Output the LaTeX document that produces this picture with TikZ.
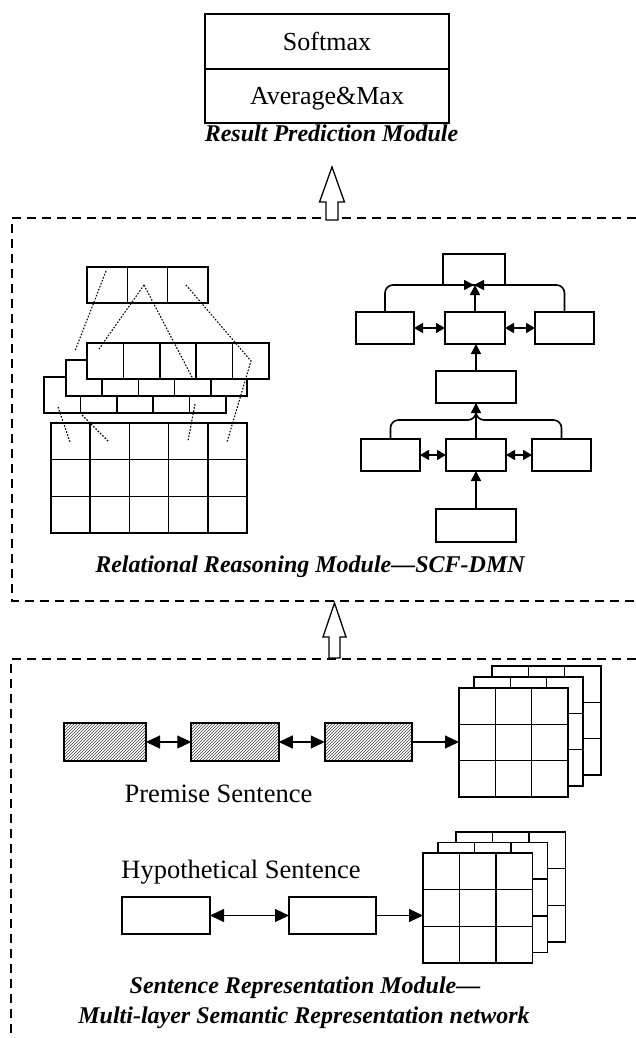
\documentclass[tikz,border=0pt]{standalone}
\usepackage{fontspec}
\setmainfont{Liberation Serif}
\usetikzlibrary{arrows.meta,patterns,calc}
\newcommand\mgrid[7]{% name, x0, y0, cell w, cell h, ncols, nrows
  \node[box, minimum width=#6*#4, minimum height=#7*#5, anchor=north west] (#1) at (#2,#3) {};
  \pgfmathtruncatemacro\mync{#6-1}\pgfmathtruncatemacro\mynr{#7-1}
  \ifnum\mync>0 \foreach \k in {1,...,\mync} {\draw[gridline] ($(#1.north west)+(\k*#4,0)$) -- ($(#1.south west)+(\k*#4,0)$);}\fi
  \ifnum\mynr>0 \foreach \k in {1,...,\mynr} {\draw[gridline] ($(#1.north west)+(0,\k*#5)$) -- ($(#1.north east)+(0,\k*#5)$);}\fi
}
\begin{document}
\begin{tikzpicture}[x=1pt,y=-1pt,
  box/.style={draw, line width=1.6pt, inner sep=0pt, outer sep=0pt, fill=white},
  gridline/.style={line width=1.6pt},
  dbox/.style={line width=1.2pt, dash pattern=on 9pt off 6pt},
  hollow/.style={draw, line width=1.3pt, fill=white, line join=miter},
  treeconn/.style={line width=1.6pt},
  uparr/.style={treeconn, -{Triangle[length=10pt,width=10pt]}},
  duparr/.style={treeconn, {Triangle[length=9pt,width=10pt]}-{Triangle[length=9pt,width=10pt]}},
  barr/.style={line width=1.1pt, -{Triangle[length=14pt,width=13pt]}},
  dbarr/.style={line width=1.1pt, {Triangle[length=14pt,width=13pt]}-{Triangle[length=14pt,width=13pt]}},
  dotline/.style={line width=1.1pt, dash pattern=on 1.6pt off 1.6pt},
  boxtext/.style={font=\fontsize{26}{30}\selectfont, text height=18pt, text depth=0pt},
  captxt/.style={anchor=base, inner sep=0pt, font=\fontsize{24}{28}\selectfont\bfseries\itshape},
  labtxt/.style={anchor=base, inner sep=0pt, font=\fontsize{26.5}{30}\selectfont}
]
\useasboundingbox (0,0) rectangle (636,1038);

% ---------- Result prediction module ----------
\node[box, boxtext, minimum width=244, minimum height=55] (sm) at (327,41.5) {Softmax};
\node[box, boxtext, minimum width=244, minimum height=54] (am) at (327,96) {Average\&Max};
\node[captxt] (rpm) at (331.5,142) {Result Prediction Module};

% ---------- dashed frames ----------
\draw[dbox] (636,218) -- (12,218) -- (12,601) -- (636,601);
\draw[dbox] (636,659) -- (11,659) -- (11,1040);

% hollow arrows
\draw[hollow] (332,167) -- (344.5,202) -- (338,202) -- (338,220) -- (326,220) -- (326,202) -- (319.5,202) -- cycle;
\draw[hollow] (334.5,603) -- (346,637) -- (340,637) -- (340,658) -- (329,658) -- (329,637) -- (323,637) -- cycle;

% ---------- Relational reasoning: left stacked part ----------
\mgrid{tb}{87}{267}{40.33}{36}{3}{1}
\mgrid{lthree}{44}{377}{36.4}{36}{5}{1}
\mgrid{ltwo}{66}{360}{36.2}{36}{5}{1}
\mgrid{lone}{87}{343}{36.4}{36}{5}{1}
\mgrid{bg}{51}{423}{39.2}{36.67}{5}{3}

\draw[dotline] (106,271) -- (75,351);
\draw[dotline] (144,285) -- (99,349);
\draw[dotline] (144,285) -- (193,379);
\draw[dotline] (186,285) -- (251,361) -- (227,442);
\draw[dotline] (58,407) -- (70,442);
\draw[dotline] (82,415) -- (109,442);
\draw[dotline] (195,404) -- (188,441);

% ---------- Relational reasoning: right tree ----------
\node[box, minimum width=62, minimum height=31] (top) at (474,269.5) {};
\node[box, minimum width=58, minimum height=32] (rtl) at (385,328) {};
\node[box, minimum width=60, minimum height=32] (rtm) at (475,328) {};
\node[box, minimum width=59, minimum height=32] (rtr) at (564.5,328) {};
\node[box, minimum width=80, minimum height=32] (mid) at (476,387) {};
\node[box, minimum width=59, minimum height=32] (rfl) at (390.5,455) {};
\node[box, minimum width=60, minimum height=32] (rfm) at (476,455) {};
\node[box, minimum width=59, minimum height=32] (rfr) at (561.5,455) {};
\node[box, minimum width=80, minimum height=33] (bot) at (476,525.5) {};

\draw[uparr] (rtm.north) -- (rtm.north |- top.south);
\draw[uparr, rounded corners=8pt] (rtl.north) |- (top.south);
\draw[uparr, rounded corners=8pt] (rtr.north) |- (top.south);
\draw[duparr] (rtl.east) -- (rtm.west);
\draw[duparr] (rtm.east) -- (rtr.west);
\draw[uparr] (mid.north) -- (mid.north |- rtm.south);
\draw[treeconn, rounded corners=8pt] (rfl.north) |- ($(mid.south)+(0,17)$) -- (mid.south);
\draw[treeconn, rounded corners=8pt] (rfr.north) |- ($(mid.south)+(0,17)$) -- (mid.south);
\draw[uparr] (rfm.north) -- (mid.south);
\draw[duparr] (rfl.east) -- (rfm.west);
\draw[duparr] (rfm.east) -- (rfr.west);
\draw[uparr] (bot.north) -- (rfm.south);

\node[captxt] (rrm) at (310,572) {Relational Reasoning Module—SCF-DMN};

% ---------- Sentence representation module ----------
\node[box, minimum width=82, minimum height=38, pattern=north east lines, pattern color=black!75] (hbone) at (105,742) {};
\node[box, minimum width=87.5, minimum height=38, pattern=north east lines, pattern color=black!75] (hbtwo) at (235,742) {};
\node[box, minimum width=87.5, minimum height=38, pattern=north east lines, pattern color=black!75] (hbthree) at (368.5,742) {};

\mgrid{pgc}{492}{666}{36.33}{36.33}{3}{3}
\mgrid{pgb}{474}{677}{36.33}{36.33}{3}{3}
\mgrid{pga}{459}{688}{36.33}{36.33}{3}{3}

\draw[dbarr] (hbone.east) -- (hbtwo.west);
\draw[dbarr] (hbtwo.east) -- (hbthree.west);
\draw[barr] (hbthree.east) -- (hbthree.east -| pga.west);

\node[labtxt] (prem) at (218.5,802) {Premise Sentence};
\node[labtxt] (hypo) at (241,878) {Hypothetical Sentence};

\node[box, minimum width=88, minimum height=37] (hyone) at (166,915.5) {};
\node[box, minimum width=87, minimum height=37] (hytwo) at (332.5,915.5) {};

\mgrid{hgc}{456}{832}{36.5}{36.67}{3}{3}
\mgrid{hgb}{438}{842.5}{36.5}{36.67}{3}{3}
\mgrid{hga}{423}{853}{36.5}{36.67}{3}{3}

\draw[dbarr] (hyone.east) -- (hytwo.west);
\draw[barr] (hytwo.east) -- (hytwo.east -| hga.west);

\node[captxt] (srmone) at (305,993) {Sentence Representation Module—};
\node[captxt] (srmtwo) at (304,1023) {Multi-layer Semantic Representation network};
\end{tikzpicture}
\end{document}
